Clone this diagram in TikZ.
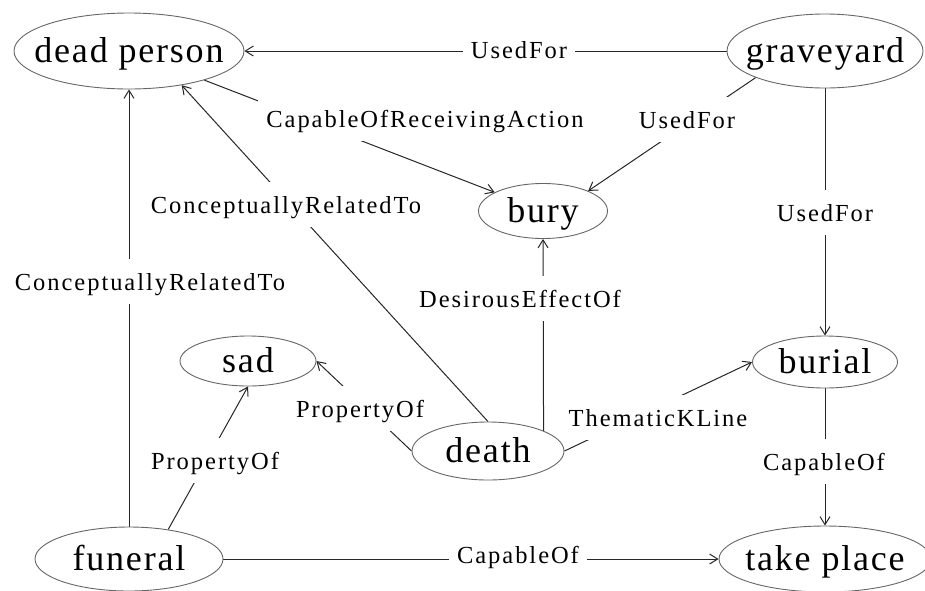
\documentclass[tikz,border=0pt]{standalone}
\usepackage{fontspec}
\usetikzlibrary{arrows.meta,shapes.geometric}
\newfontfamily\conceptfont[LetterSpace=5]{Liberation Serif}
\newfontfamily\relationfont[LetterSpace=8]{Liberation Serif}
\pgfdeclarelayer{under}
\pgfsetlayers{under,main}
\begin{document}
\begin{tikzpicture}[x=1pt,y=-1pt,
  concept/.style={ellipse, draw=black!60, line width=0.9pt, inner sep=0pt},
  ctext/.style={font=\conceptfont\fontsize{36}{40}\selectfont, inner sep=0pt,
    text height=27.4pt, text depth=4.3pt},
  rel/.style={font=\relationfont\fontsize{24.5}{28}\selectfont, fill=white,
    inner xsep=8pt, inner ysep=0pt, text height=30.6pt, text depth=13.5pt, anchor=base},
  edge/.style={draw=black!85, line width=1pt,
    -{Straight Barb[length=8pt,width=10pt]}}]
\useasboundingbox (0,0) rectangle (925,590);
\clip (0,0) rectangle (925,590);

% concepts
\node[concept, minimum width=230pt, minimum height=76pt, label={[ctext]center:dead person}] (dp) at (129,51) {};
\node[concept, minimum width=196pt, minimum height=74pt, label={[ctext]center:graveyard}] (gy) at (825,51) {};
\node[concept, minimum width=129pt, minimum height=55pt, label={[ctext]center:bury}] (bury) at (543,211) {};
\node[concept, minimum width=136pt, minimum height=50pt, label={[ctext]center:sad}] (sad) at (248,361) {};
\node[concept, minimum width=152pt, minimum height=58pt, label={[ctext]center:death}] (death) at (488,451) {};
\node[concept, minimum width=145pt, minimum height=52pt, label={[ctext]center:burial}] (burial) at (825,362) {};
\node[concept, minimum width=188pt, minimum height=64pt, label={[ctext]center:funeral}] (fun) at (129,559) {};
\node[concept, minimum width=212pt, minimum height=66pt, label={[ctext]center:take place}] (take) at (825,559) {};

\begin{pgfonlayer}{under}
% relations
\draw[edge] (gy) -- (dp);
\draw[edge] (dp) -- (bury);
\draw[edge] (gy.201) -- (bury.24);
\draw[edge] (gy) -- (burial);
\draw[edge] (death.north) -- (dp.-33);
\draw[edge] (fun) -- (dp);
\draw[edge] (death.20) -- (bury.south);
\draw[edge] (death.west) -- (sad.east);
\draw[edge] (fun.37) -- (sad.south);
\draw[edge] (death.east) -- (burial.west);
\draw[edge] (burial) -- (take);
\draw[edge] (fun) -- (take);

% relation labels
\node[rel] (l1) at (519,58) {UsedFor};
\node[rel] (l2) at (425,127) {CapableOfReceivingAction};
\node[rel] (l3) at (687,128) {UsedFor};
\node[rel] (l4) at (286,213) {ConceptuallyRelatedTo};
\node[rel] (l5) at (825,221) {UsedFor};
\node[rel] (l6) at (150,290) {ConceptuallyRelatedTo};
\node[rel] (l7) at (520,307) {DesirousEffectOf};
\node[rel] (l8) at (360,417) {PropertyOf};
\node[rel] (l9) at (215,469) {PropertyOf};
\node[rel] (l10) at (658,426) {ThematicKLine};
\node[rel] (l11) at (824,470) {CapableOf};
\node[rel] (l12) at (518,563) {CapableOf};
\end{pgfonlayer}
\end{tikzpicture}
\end{document}
